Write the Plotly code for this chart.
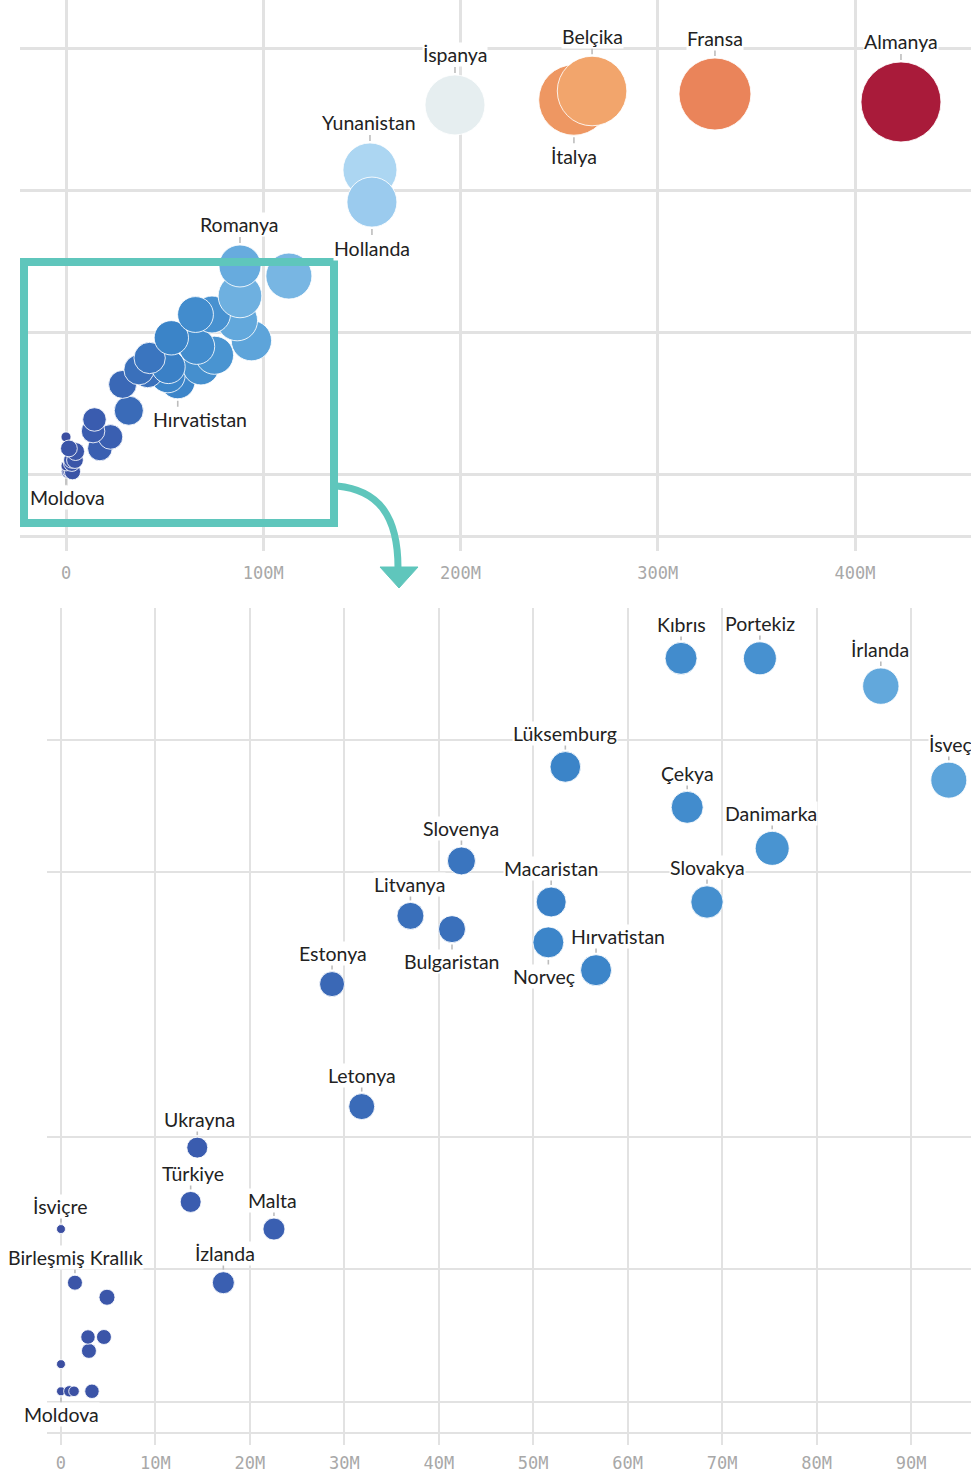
import math
import plotly.graph_objects as go

W, H = 971, 1474

# ---------------- data ----------------
ulkeler = [
    "Moldova", "", "", "", "", "İsviçre", "", "", "", "", "Birleşmiş Krallık",
    "İzlanda", "Malta", "Türkiye", "Ukrayna", "Letonya", "Estonya",
    "Hırvatistan", "Norveç", "Bulgaristan", "Litvanya", "Slovakya", "Macaristan",
    "Slovenya", "Danimarka", "Çekya", "İsveç", "Lüksemburg", "İrlanda",
    "Portekiz", "Kıbrıs", "", "Romanya", "", "Yunanistan", "Hollanda",
    "İspanya", "İtalya", "Belçika", "Fransa", "Almanya",
]
x_milyon = [
    0.0, 0.88, 1.38, 3.28, 0.0, 0.0, 2.96, 2.86, 4.55, 4.87, 1.48,
    17.19, 22.55, 13.73, 14.43, 31.84, 28.7,
    56.65, 51.6, 41.4, 37.0, 68.4, 51.9,
    42.4, 75.3, 66.3, 94.0, 53.4, 86.8,
    74.0, 65.65, 88.2, 88.2, 113.0, 154.1, 155.1,
    197.2, 257.5, 266.7, 329.0, 423.3,
]
y_deger = [
    10.16, 10.16, 10.16, 10.16, 10.57, 12.61, 10.77, 10.98, 10.98, 11.58, 11.80,
    11.80, 12.61, 13.02, 13.84, 14.46, 16.31,
    16.52, 16.94, 17.14, 17.34, 17.55, 17.55,
    18.17, 18.36, 18.98, 19.39, 19.59, 20.81,
    21.23, 21.23, 22.54, 24.65, 23.94, 31.41, 29.15,
    35.99, 36.34, 36.97, 36.76, 36.20,
]
buyukluk = [
    20, 32, 28, 52, 20, 20, 56, 52, 56, 64, 56,
    121, 121, 110, 110, 169, 156,
    240, 240, 182, 182, 262, 225,
    196, 289, 256, 324, 235, 330,
    272, 256, 380, 352, 422, 581, 498,
    717, 990, 965, 1033, 1276,
]

ust_eksen_deger = [0, 100, 200, 300, 400]
ust_eksen_etiket = ["0", "100M", "200M", "300M", "400M"]
alt_eksen_deger = [0, 10, 20, 30, 40, 50, 60, 70, 80, 90]
alt_eksen_etiket = ["0", "10M", "20M", "30M", "40M", "50M", "60M", "70M", "80M", "90M"]

# label placement: name -> (side, dx)
ust_etiketler = {
    "Almanya": (1, 0), "Fransa": (1, 0), "Belçika": (1, 0), "İtalya": (-1, 0),
    "İspanya": (1, 0), "Yunanistan": (1, -1), "Hollanda": (-1, 0), "Romanya": (1, 0),
    "Hırvatistan": (-1, 22), "Moldova": (-1, 1),
}
alt_etiketler = {
    "Kıbrıs": (1, 0), "Portekiz": (1, 0), "İrlanda": (1, -1), "Lüksemburg": (1, 0),
    "İsveç": (1, 2), "Çekya": (1, 0), "Danimarka": (1, -1), "Slovenya": (1, 0),
    "Macaristan": (1, 0), "Slovakya": (1, 0), "Litvanya": (1, -1), "Bulgaristan": (-1, 0),
    "Norveç": (-1, -4), "Hırvatistan": (1, 22), "Estonya": (1, 1), "Letonya": (1, 0),
    "Ukrayna": (1, 2), "Türkiye": (1, 2), "Malta": (1, -1), "İsviçre": (1, 0),
    "Birleşmiş Krallık": (1, 1), "İzlanda": (1, 2), "Moldova": (-1, 1),
}

renk_duraklari = [
    (20, "#3b4ea1"), (56, "#3b55a8"), (115, "#3a5db0"), (165, "#3a6ab7"),
    (190, "#3a73bd"), (225, "#3a80c6"), (245, "#3c87ca"), (265, "#4690cf"),
    (300, "#4b96d2"), (330, "#62a8dc"), (422, "#78b6e3"), (498, "#9bcbee"),
    (581, "#acd6f2"), (717, "#e6eef0"), (965, "#f2a56c"), (990, "#ee9762"),
    (1033, "#ea845a"), (1276, "#a91b3a"),
]
cmin, cmax = renk_duraklari[0][0], renk_duraklari[-1][0]
colorscale = [[(v - cmin) / (cmax - cmin), c] for v, c in renk_duraklari]

UST_OLCEK = 1.12
TEAL = "#5fc6bc"
GRID = "#e2e2e2"
LABEL_FONT = dict(family="Lato", size=19.5, color="#222222")
TICK_FONT = dict(family="DejaVu Sans Mono", size=17, color="#a8a8a8")

fig = go.Figure()


def radius(v, scale):
    return math.sqrt(v) * scale


for xa, ya, scale in (("x", "y", UST_OLCEK), ("x2", "y2", 1.0)):
    fig.add_trace(go.Scatter(
        x=x_milyon, y=y_deger, xaxis=xa, yaxis=ya, mode="markers",
        text=ulkeler, hoverinfo="text",
        marker=dict(
            size=[2 * radius(v, scale) for v in buyukluk],
            sizemode="diameter",
            color=buyukluk, colorscale=colorscale, cmin=cmin, cmax=cmax,
            opacity=1, line=dict(color="rgba(255,255,255,0.85)", width=1),
        ),
        showlegend=False,
    ))

shapes = []
annotations = []
for etiketler, xr, yr, scale, off_up, off_dn in (
        (ust_etiketler, "x", "y", UST_OLCEK, 20, 21),
        (alt_etiketler, "x2", "y2", 1.0, 18, 19)):
    for name, (side, dx) in etiketler.items():
        i = ulkeler.index(name)
        r = radius(buyukluk[i], scale)
        shapes.append(dict(
            type="line", xref=xr, yref=yr, xsizemode="pixel", ysizemode="pixel",
            xanchor=x_milyon[i], yanchor=y_deger[i], x0=0, x1=0,
            y0=side * (r + 2), y1=side * (r + 8),
            line=dict(color="#bdbdbd", width=1.6), layer="above",
        ))
        annotations.append(dict(
            x=x_milyon[i], y=y_deger[i], xref=xr, yref=yr, text=name,
            showarrow=False, xshift=dx,
            yshift=side * (r + (off_up if side > 0 else off_dn)),
            font=LABEL_FONT, bgcolor="white", borderpad=0,
        ))


def P(px, py):
    return px / W, 1 - py / H


# zoom box
bx0, by0 = P(24, 262)
bx1, by1 = P(334, 523)
shapes.append(dict(type="rect", xref="paper", yref="paper", x0=bx0, x1=bx1, y0=by1, y1=by0,
                   line=dict(color=TEAL, width=8), fillcolor="rgba(0,0,0,0)", layer="above"))
# curved arrow
a = P(337, 486); b = P(378, 490); c = P(398, 515); d = P(398, 568)
shapes.append(dict(type="path", xref="paper", yref="paper",
                   path=f"M {a[0]},{a[1]} C {b[0]},{b[1]} {c[0]},{c[1]} {d[0]},{d[1]}",
                   line=dict(color=TEAL, width=7), layer="above"))
h1 = P(380, 567); h2 = P(418, 567); h3 = P(399, 588)
shapes.append(dict(type="path", xref="paper", yref="paper",
                   path=f"M {h1[0]},{h1[1]} L {h2[0]},{h2[1]} L {h3[0]},{h3[1]} Z",
                   fillcolor=TEAL, line=dict(color=TEAL, width=1), layer="above"))

axis_common = dict(showgrid=True, gridcolor=GRID, zeroline=False)

fig.update_layout(
    width=W, height=H, margin=dict(l=0, r=0, t=0, b=0),
    paper_bgcolor="white", plot_bgcolor="white", showlegend=False,
    xaxis=dict(domain=[20 / W, 1], range=[-23.32, 458.8], tickvals=ust_eksen_deger,
               ticktext=ust_eksen_etiket, gridwidth=2.5, showline=True, linecolor=GRID,
               linewidth=2.5, ticks="outside", ticklen=13, tickwidth=2.5, tickcolor=GRID,
               tickfont=TICK_FONT, ticklabelstandoff=8, anchor="y", **axis_common),
    yaxis=dict(domain=[1 - 535 / H, 1], range=[5.704, 43.38], tickvals=[10, 20, 30, 40],
               showticklabels=False, gridwidth=2.5, anchor="x", **axis_common),
    xaxis2=dict(domain=[47 / W, 1], range=[-1.48, 96.35], tickvals=alt_eksen_deger,
                ticktext=alt_eksen_etiket, gridwidth=1.8, showline=True, linecolor=GRID,
                linewidth=2, ticks="outside", ticklen=11, tickwidth=1.8, tickcolor=GRID,
                tickfont=TICK_FONT, ticklabelstandoff=4, anchor="y2", **axis_common),
    yaxis2=dict(domain=[1 - 1432 / H, 1 - 608 / H], range=[9.545, 21.99],
                tickvals=[10, 12, 14, 18, 20], showticklabels=False, gridwidth=1.8,
                anchor="x2", **axis_common),
    shapes=shapes, annotations=annotations,
)

fig.write_html("out.html", config={"displayModeBar": False},
               post_script="document.body.style.margin='0';")
